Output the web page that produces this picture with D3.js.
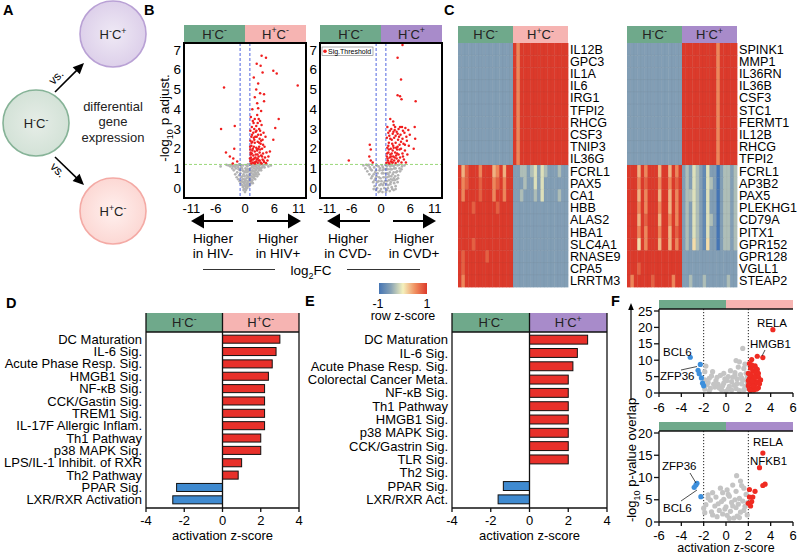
<!DOCTYPE html>
<html><head><meta charset="utf-8">
<script src="https://cdn.jsdelivr.net/npm/d3@7"></script>
<style>body{margin:0;background:#fff}text{font-family:'Liberation Sans',Arial,Helvetica,sans-serif}</style>
</head><body><svg id="c" width="800" height="555" font-family="Liberation Sans, Arial, sans-serif"></svg>
<script>
// ---------------- DATA ----------------
const GREEN = '#6fa98b', PINK = '#f6b4b2', PURPLE = '#a88bca';

// Panel B volcano plots: [log2FC, -log10 p adjust]
const volcanoTicksX = [-11, -6, 0, 6, 11];
const volcanoTicksY = [0, 1, 2, 3, 4, 5, 6, 7];
const sigThreshold = 1.2;
const hivRed = [[-4.3,5.1],[-4.9,3.0],[-2.1,3.15],[-3.9,1.8],[-3.1,1.6],[-2.2,2.0],[-2.4,1.5],[-2.5,1.25],[-1.6,1.35],
[10.8,5.2],[6.9,3.5],[6.2,3.05],[5.8,2.45],[5.1,1.85],[3.4,6.7],[4.3,6.6],[2.4,6.3],[3.2,6.2],[5.8,5.95],[6.5,5.8],[3.6,5.85],[2.7,5.3],[3.1,4.8],[3.9,4.75],[2.5,4.3],[3.9,4.4],[2.7,4.05],[3.3,3.9],
[1.2,3.6],[1.6,3.4],[2.0,3.5],[2.6,3.3],[1.4,3.1],[1.9,3.0],[2.3,3.15],[2.9,3.0],[3.4,3.2],[1.1,2.9],[1.7,2.8],[2.2,2.85],[2.7,2.7],[3.1,2.9],[3.8,2.8],[1.3,2.6],[1.8,2.55],[2.4,2.6],[3.0,2.5],[3.6,2.45],[4.2,2.6],[1.1,2.4],[1.5,2.35],[2.0,2.3],[2.6,2.35],[3.2,2.25],[1.3,2.15],[1.8,2.1],[2.3,2.05],[2.9,2.1],[3.5,2.0],[4.0,2.1],[1.1,1.95],[1.5,1.9],[2.0,1.85],[2.5,1.9],[3.0,1.8],[3.7,1.75],[4.4,1.8],[1.2,1.7],[1.7,1.65],[2.2,1.7],[2.8,1.6],[3.3,1.65],[4.1,1.55],[1.0,1.5],[1.4,1.45],[1.9,1.5],[2.4,1.45],[3.0,1.4],[3.6,1.45],[4.6,1.4],[1.1,1.35],[1.6,1.3],[2.1,1.32],[2.6,1.28],[3.2,1.3],[3.9,1.32],[1.3,1.25],[1.8,1.27],[2.3,1.35],[2.8,1.4],[4.3,1.27],[3.5,1.6],[2.1,2.6],[1.6,2.0],[2.7,2.0],[1.2,1.55],[3.3,2.4],[2.5,3.7],[1.5,4.0],[2.0,4.6],[1.8,5.6],[2.3,5.0],
[1.25,1.4],[1.7,1.45],[2.15,1.55],[2.55,1.7],[3.1,1.95],[3.4,1.25],[2.05,1.25],[2.45,1.95],[1.4,1.75],[1.05,2.1],[1.9,2.45],[2.9,2.3],[3.7,2.2],[1.45,2.7],[2.35,2.9],[3.25,2.7],[1.75,3.3],[2.8,3.5],[3.1,3.4],[1.35,2.3],[2.6,1.5],[3.8,1.4],[4.8,1.6],[1.15,1.8]];
const hivGray = [[0,-0.2],[0.2,-0.1],[-0.2,-0.05],[0.4,0.0],[-0.4,0.05],[0.1,0.1],[0.6,0.1],[-0.6,0.15],[0.3,0.2],[0.9,0.2],[-0.9,0.25],[-0.2,0.25],[0.5,0.3],[1.2,0.3],[-1.1,0.35],[0.0,0.35],[0.8,0.4],[1.5,0.4],[-1.4,0.45],[-0.5,0.45],[0.3,0.5],[1.1,0.5],[1.8,0.5],[-1.7,0.55],[-0.8,0.55],[0.6,0.6],[1.4,0.6],[2.0,0.6],[-1.2,0.65],[-2.0,0.7],[0.9,0.7],[1.7,0.7],[2.3,0.7],[-0.3,0.7],[-1.6,0.8],[1.2,0.8],[2.0,0.8],[2.6,0.8],[0.4,0.8],[-2.3,0.9],[-1.0,0.9],[1.5,0.9],[2.3,0.9],[2.9,0.9],[0.8,0.95],[-1.9,1.0],[-2.6,1.0],[1.1,1.0],[1.8,1.0],[2.6,1.0],[3.2,1.0],[-0.6,1.0],[-1.4,1.05],[1.4,1.05],[2.1,1.1],[2.9,1.1],[3.5,1.05],[-2.2,1.1],[-3.0,1.1],[0.5,1.1],[1.7,1.15],[2.4,1.15],[3.1,1.18],[3.8,1.12],[-1.8,1.15],[-2.7,1.18],[1.0,1.18],[1.3,1.2],[2.0,1.2],[2.7,1.22],[3.4,1.22],[4.2,1.2],[-3.4,1.15],[-1.2,1.2],[-0.8,1.15],[4.8,1.1],[-5.0,1.1],[5.3,1.15],[0.7,0.35],[-0.7,0.35],[1.0,0.15],[-0.1,0.6],[0.2,0.9],[1.9,0.85],[2.2,0.95],[1.6,0.55],[0.4,0.15],[-0.3,-0.1],[1.3,0.25],
[-0.1,0.15],[0.15,0.4],[-0.35,0.3],[0.55,0.2],[0.75,0.55],[-0.55,0.6],[0.35,0.65],[1.05,0.65],[-0.95,0.75],[1.3,0.75],[0.1,1.0],[-0.3,0.85],[0.65,0.85],[1.6,0.85],[-1.3,0.95],[2.4,1.05],[1.9,0.65],[-2.0,1.1],[0.3,1.15],[-0.4,1.15],[2.9,1.2],[3.6,1.18],[-1.5,1.15],[1.5,1.12],[1.0,0.9],[0.0,0.8],[-0.8,1.05],[2.5,0.6],[0.9,0.5],[1.2,0.4],[-0.2,0.45],[0.5,0.95],[-1.1,1.18],[2.2,0.75],[1.8,1.12],[3.0,1.0],[0.2,0.0],[-0.1,0.3],[0.8,0.1],[1.6,0.25],[2.1,0.45],[2.8,0.7],[3.3,0.9],[4.0,1.05],[-2.5,1.12],[-3.8,1.18],[4.5,1.2],[0.6,1.2],[-0.5,0.9],[1.4,0.3]];
const cvdRed = [[-6.6,1.4],[-2.3,2.2],[-2.1,1.95],[-2.4,1.6],[-2.1,1.4],[-1.7,1.3],[4.4,7.25],[3.4,6.6],[4.1,5.5],[3.4,4.7],[3.9,4.65],[4.2,4.5],[7.1,4.4],[6.9,3.1],[7.0,2.5],[6.7,2.0],[1.9,3.5],[2.5,3.37],
[1.3,3.1],[2.1,3.0],[2.9,3.1],[3.6,3.0],[4.3,3.1],[5.0,3.05],[5.6,2.95],[1.5,2.8],[2.4,2.75],[3.2,2.85],[4.0,2.7],[4.8,2.8],[5.9,2.7],[1.2,2.55],[1.9,2.5],[2.7,2.55],[3.5,2.45],[4.4,2.5],[5.3,2.4],[1.6,2.3],[2.3,2.25],[3.0,2.3],[3.8,2.2],[4.6,2.25],[5.7,2.15],[1.3,2.05],[2.0,2.0],[2.6,2.05],[3.3,1.95],[4.1,2.0],[4.9,1.9],[1.5,1.8],[2.2,1.75],[2.9,1.8],[3.6,1.7],[4.4,1.75],[5.4,1.7],[1.2,1.6],[1.8,1.55],[2.5,1.6],[3.2,1.5],[3.9,1.55],[4.7,1.45],[1.4,1.4],[2.0,1.35],[2.7,1.4],[3.5,1.35],[1.1,1.28],[1.7,1.25],[2.3,1.3],[3.0,1.27],[4.2,1.3],[5.1,1.3],[2.8,2.95],[3.7,2.6],[1.8,2.9],[2.5,2.15],[3.4,2.1],[1.6,1.95],[4.5,1.6],[2.2,1.45],[3.1,1.65],
[1.35,1.5],[1.9,1.7],[2.4,1.9],[2.8,1.55],[3.3,1.75],[3.8,1.95],[1.5,2.15],[2.2,2.45],[3.0,2.65],[1.7,2.65],[2.55,2.85],[3.4,2.75],[4.1,2.35],[1.25,1.75],[2.05,1.6],[3.6,1.4],[4.9,2.2],[5.2,2.6],[2.4,1.3],[1.5,1.3],[3.1,2.05],[4.5,2.9],[3.9,3.1],[2.6,3.2]];
const cvdGray = [[-0.5,-0.2],[0.3,-0.2],[1.0,-0.2],[1.8,-0.15],[2.6,-0.1],[-1.0,-0.1],[0.0,-0.05],[0.7,0.0],[1.4,0.0],[2.2,0.05],[3.0,0.1],[-1.3,0.1],[-0.3,0.15],[0.4,0.15],[1.1,0.2],[1.9,0.2],[2.7,0.25],[-1.6,0.3],[-0.8,0.3],[0.1,0.35],[0.8,0.35],[1.6,0.4],[2.4,0.4],[3.2,0.45],[-2.0,0.5],[-1.1,0.5],[-0.4,0.55],[0.5,0.55],[1.3,0.55],[2.1,0.6],[2.9,0.6],[3.5,0.65],[-2.4,0.7],[-1.5,0.7],[-0.7,0.75],[0.2,0.75],[1.0,0.75],[1.8,0.8],[2.6,0.8],[3.3,0.85],[-2.8,0.85],[-1.9,0.9],[-1.0,0.9],[0.6,0.95],[1.4,0.95],[2.2,0.95],[3.0,1.0],[3.8,1.0],[-3.2,1.0],[-2.3,1.05],[-1.4,1.05],[-0.5,1.1],[1.2,1.1],[1.9,1.1],[2.6,1.12],[3.4,1.15],[4.3,1.1],[-3.6,1.15],[-2.7,1.15],[-1.8,1.18],[0.9,1.18],[1.6,1.18],[2.3,1.15],[4.8,1.15],[-0.1,0.5],[0.3,0.9],[2.0,0.3],[1.5,0.7],[2.8,0.4],[-0.9,0.6],
[-1.5,-0.05],[-0.8,0.0],[0.0,0.2],[0.6,0.25],[1.2,0.35],[2.0,0.45],[2.6,0.5],[3.4,0.3],[-1.8,0.6],[-1.2,0.8],[-0.3,0.9],[0.4,1.05],[1.1,0.95],[1.7,0.6],[2.4,0.7],[3.1,0.8],[3.9,0.85],[-2.1,0.95],[-0.9,1.15],[0.2,1.15],[2.0,1.18],[2.9,1.18],[3.7,1.18],[4.2,0.95],[-0.5,0.35],[1.5,0.15],[2.3,-0.05],[-2.5,1.18],[-3.0,1.18],[0.9,0.55],[1.9,0.95],[2.7,1.0],[3.5,0.5],[-0.2,1.0],[0.5,0.75],[1.3,0.75],[-1.3,0.4],[3.0,-0.05],[1.2,-0.1],[-0.2,-0.15]];

// Panel C heatmaps: one string per gene, one digit per sample (digit -> z-score level)
const zLevels = [-1, -0.78, -0.56, -0.33, -0.11, 0.11, 0.33, 0.56, 0.78, 1];
const hm1Genes = ['IL12B','GPC3','IL1A','IL6','IRG1','TFPI2','RHCG','CSF3','TNIP3','IL36G','FCRL1','PAX5','CA1','HBB','ALAS2','HBA1','SLC4A1','RNASE9','CPA5','LRRTM3'];
const hm1Rows = [
'22222222222222229799999999999999','22222222222222229799999999999999','22222222222222229799999999999999','22222222222222229799999999999999',
'22222222222222229799999999999999','22222222222222229799999999999999','22222222222222229799999999999999','22222222222222229799999999999999',
'22222222222222229799999999999999','22222222222222229799999999999999',
'96899979996796992233234243222322','97899989997897992223224242222222','97999989997997992232223242222322',
'99998999999899992222222222222222','99999999999999992222222222222222','99999999999999992222222222222222','99998999999999992222222222222222',
'98999999899999992222222222222222','98999999999999992222222222222222','97999999999999992222222222222222'];
const hm2Genes = ['SPINK1','MMP1','IL36RN','IL36B','CSF3','STC1','FERMT1','IL12B','RHCG','TFPI2','FCRL1','AP3B2','PAX5','PLEKHG1','CD79A','PITX1','GPR152','GPR128','VGLL1','STEAP2'];
const hm2Rows = [
'22222222222222229999999999799999','22222222222222229999999999799999','22222222222222229999999999799999','22222222222222229999999999799999',
'22222222222222229999999999799999','22222222222222229999999999799999','22222222222222229999999999799999','22222222222222229999999999799999',
'22222222222222229999999999799999','22222222222222229999999999799999',
'99969799969969792324321422023323','99979899979979892324321432023323','99969799969969792334321422023323','99979799979969792324321422023323',
'99969899969979792324321432023323','99979799979969892324321422023323','99959799969969792325321522023323',
'99999999999999992222222222222222','99989999999999992222222222222222','97999998999997992232223222222322'];

// Panel D / E pathways
const axisTicksZ = [-4, -2, 0, 2, 4];
const dPathways = ['DC Maturation','IL-6 Sig.','Acute Phase Resp. Sig.','HMGB1 Sig.','NF-\u03BAB Sig.','CCK/Gastin Sig.','TREM1 Sig.','IL-17F Allergic Inflam.','Th1 Pathway','p38 MAPK Sig.','LPS/IL-1 Inhibit. of RXR','Th2 Pathway','PPAR Sig.','LXR/RXR Activation'];
const dZ = [3.0, 2.8, 2.6, 2.4, 2.2, 2.2, 2.2, 2.2, 2.0, 2.0, 1.0, 0.82, -2.4, -2.6];
const ePathways = ['DC Maturation','IL-6 Sig.','Acute Phase Resp. Sig.','Colorectal Cancer Meta.','NF-\u03BAB Sig.','Th1 Pathway','HMGB1 Sig.','p38 MAPK Sig.','CCK/Gastrin Sig.','TLR Sig.','Th2 Sig.','PPAR Sig.','LXR/RXR Act.'];
const eZ = [3.0, 2.47, 2.24, 2.0, 2.0, 2.0, 2.0, 2.0, 2.0, 2.0, 0, -1.35, -1.62];

// Panel F upstream regulators: [activation z-score, -log10 p-value overlap]
const fTicksX = [-6, -4, -2, 0, 2, 4, 6];
const fTopTicksY = [0, 5, 10, 15, 20, 25];
const fBotTicksY = [0, 5, 10, 15, 20];
const fTopRed = [[4.2,19.3],[3.3,10.8],[2.8,11.2],[2.3,10.2],[2.1,9.0],[2.6,8.3],[2.2,7.6],[2.8,7.2],[2.4,6.6],[2.0,6.0],[2.7,5.8],[2.3,5.2],[2.9,4.9],[2.1,4.4],[2.5,4.0],[2.8,3.4],[2.2,3.0],[2.6,2.6],[2.0,2.2],[2.4,1.8],[2.9,1.6],[2.1,1.2],[2.5,0.9],[3.0,2.8],[2.3,8.6],[2.7,6.4],[2.0,3.8],[3.1,4.0],
[2.15,5.6],[2.55,4.6],[2.05,2.8],[2.45,2.1],[2.75,1.2],[2.35,3.6],[2.65,7.6],[2.9,6.0],[2.2,0.8]];
const fTopBlue = [[-3.2,10.9],[-2.3,8.7],[-2.5,6.9],[-2.4,5.9],[-2.2,4.6],[-2.1,3.0],[-2.0,2.2]];
const fTopGray = [[1.5,13.6],[1.2,9.5],[0.9,9.9],[-1.8,8.2],[-1.2,6.5],[-0.5,5.4],[0.2,5.0],[0.8,6.2],[1.6,7.5],[1.8,6.0],[-1.5,4.5],[-0.9,3.8],[-0.2,3.0],[0.5,3.5],[1.0,4.2],[1.4,2.8],[1.9,3.5],[-1.7,2.5],[-1.0,1.8],[-0.4,1.0],[0.3,2.0],[0.9,1.4],[1.6,1.0],[-1.9,1.2],[0.0,0.5],[1.2,0.7],[-0.7,2.6],[0.6,4.8],[-1.3,5.2],[1.9,4.7],[-1.9,6.5],[1.3,5.6],[0.1,3.8],[-0.3,2.2],[1.7,2.0],[-1.5,0.6],
[-1.6,3.2],[-0.8,4.8],[0.4,6.8],[1.1,7.9],[1.7,8.8],[-0.2,6.0],[0.7,2.4],[1.5,3.9],[-1.1,2.7],[-0.6,1.5],[0.2,1.2],[1.0,2.9],[1.8,1.5],[-1.4,1.4],[0.5,0.9],[1.4,4.6],[-0.1,4.3],[-1.9,4.0],[0.8,5.4],[1.95,2.6]];
const fBotRed = [[3.3,15.5],[3.0,12.2],[3.5,8.5],[3.3,8.2],[2.6,6.9],[2.1,7.3],[2.4,5.6],[2.1,5.6],[2.3,4.6],[2.0,4.2],[2.2,3.6]];
const fBotBlue = [[-2.6,8.7],[-2.7,8.3],[-2.85,7.8],[-2.25,5.7]];
const fBotGray = [[0.95,10.4],[1.3,9.2],[0.6,8.3],[1.6,7.6],[-0.3,6.6],[0.9,6.9],[1.8,6.2],[-1.6,6.1],[-0.9,5.6],[0.3,5.8],[1.2,5.3],[-1.4,4.9],[-0.4,4.6],[0.5,4.4],[1.5,4.7],[-1.8,3.9],[-1.0,3.6],[0.0,3.4],[0.9,3.2],[1.7,3.5],[-0.6,2.6],[0.4,2.4],[1.3,2.2],[-1.3,2.3],[-2.0,3.1],[0.1,1.5],[1.0,1.3],[1.9,1.6],[-0.8,1.2],[0.7,0.9],[-1.6,5.4],[0.2,6.2],[1.1,4.0],
[-0.5,7.6],[1.4,8.2],[0.1,7.2],[-1.2,6.6],[1.9,4.3],[-0.2,5.1],[0.8,5.0],[-1.9,2.1],[-0.3,1.8],[1.6,2.6],[0.6,3.6],[-0.7,4.1],[1.2,1.0],[-1.2,1.6],[0.3,0.8],[-0.1,2.9]];

// ---------------- DRAWING ----------------
const svg = d3.select('#c');

function hcLabel(sel, x, y, h, c, size) {
  const t = sel.append('text').attr('x', x).attr('y', y).attr('text-anchor', 'middle').attr('font-size', size).attr('fill', '#222');
  const up = size * 0.4, small = size * 0.68;
  t.append('tspan').text('H');
  t.append('tspan').attr('dy', -up).attr('font-size', small).text(h);
  t.append('tspan').attr('dy', up).text('C');
  t.append('tspan').attr('dy', -up).attr('font-size', small).text(c);
  return t;
}
function panelLetter(x, y, s) {
  svg.append('text').attr('x', x).attr('y', y).attr('font-size', 14.5).attr('font-weight', 'bold').text(s);
}
function header(x0, xm, x1, y0, y1, rightColor, rh, rc, withText) {
  svg.append('rect').attr('x', x0).attr('y', y0).attr('width', xm - x0).attr('height', y1 - y0).attr('fill', GREEN);
  svg.append('rect').attr('x', xm).attr('y', y0).attr('width', x1 - xm).attr('height', y1 - y0).attr('fill', rightColor);
  if (withText) {
    const yc = (y0 + y1) / 2 + 4.6;
    hcLabel(svg, (x0 + xm) / 2, yc, '-', '-', 13);
    hcLabel(svg, (xm + x1) / 2, yc, rh, rc, 13);
  }
}

// ---- Panel A ----
panelLetter(3, 15, 'A');
const defs = svg.append('defs');
function radial(id, inner, outer) {
  const g = defs.append('radialGradient').attr('id', id);
  g.append('stop').attr('offset', '0%').attr('stop-color', inner);
  g.append('stop').attr('offset', '100%').attr('stop-color', outer);
}
radial('gP', '#efe9f5', '#ddd0ea');
radial('gG', '#e6ede7', '#d3e2d7');
radial('gR', '#fff0ee', '#fcd8d4');
const circles = [
  {cx: 113, cy: 34, fill: 'url(#gP)', stroke: '#b9a1d5', h: '-', c: '+'},
  {cx: 36, cy: 123, fill: 'url(#gG)', stroke: '#86b397', h: '-', c: '-'},
  {cx: 113, cy: 211, fill: 'url(#gR)', stroke: '#f4aaa5', h: '+', c: '-'}
];
circles.forEach(d => {
  svg.append('circle').attr('cx', d.cx).attr('cy', d.cy).attr('r', 33).attr('fill', d.fill).attr('stroke', d.stroke).attr('stroke-width', 1.6);
  hcLabel(svg, d.cx, d.cy + 5, d.h, d.c, 13);
});
['differential', 'gene', 'expression'].forEach((s, i) => {
  svg.append('text').attr('x', 113).attr('y', 110.5 + i * 15.5).attr('text-anchor', 'middle').attr('font-size', 13).attr('fill', '#222').text(s);
});
function arrowLine(x1, y1, x2, y2, headLen, headW, sw) {
  const dx = x2 - x1, dy = y2 - y1, L = Math.hypot(dx, dy), ux = dx / L, uy = dy / L;
  const bx = x2 - ux * headLen, by = y2 - uy * headLen;
  svg.append('line').attr('x1', x1).attr('y1', y1).attr('x2', bx + ux).attr('y2', by + uy).attr('stroke', '#000').attr('stroke-width', sw);
  svg.append('polygon').attr('points', [[x2, y2], [bx - uy * headW, by + ux * headW], [bx + uy * headW, by - ux * headW]].map(p => p.join(',')).join(' ')).attr('fill', '#000');
}
arrowLine(55, 92, 84, 63, 11, 5, 1.6);
arrowLine(55, 157, 84, 185, 11, 5, 1.6);
svg.append('text').attr('transform', 'translate(59,80) rotate(-45)').attr('text-anchor', 'middle').attr('font-size', 12).text('vs.');
svg.append('text').attr('transform', 'translate(55,173) rotate(45)').attr('text-anchor', 'middle').attr('font-size', 12).text('vs.');

// ---- Panel B ----
panelLetter(144, 15, 'B');
function volcano(x0, x1, red, gray, rightColor, rh, rc, legend) {
  const yTop = 43, yBot = 198;
  const x = d3.scaleLinear().domain([-12.5, 12.5]).range([x0, x1]);
  const y = d3.scaleLinear().domain([-0.5, 7.35]).range([yBot, yTop]);
  header(x0, x(0), x1, 25, yTop, rightColor, rh, rc, true);
  const g = svg.append('g');
  g.selectAll('.g').data(gray).join('circle').attr('cx', d => x(d[0])).attr('cy', d => y(d[1])).attr('r', 1.35).attr('fill', '#b3b3b3');
  [-1, 1].forEach(v => g.append('line').attr('x1', x(v)).attr('x2', x(v)).attr('y1', yTop).attr('y2', yBot).attr('stroke', '#3d55dd').attr('stroke-width', 0.9).attr('stroke-dasharray', '3,2'));
  g.append('line').attr('x1', x0).attr('x2', x1).attr('y1', y(sigThreshold)).attr('y2', y(sigThreshold)).attr('stroke', '#8ed46b').attr('stroke-width', 0.9).attr('stroke-dasharray', '3,2');
  g.selectAll('.r').data(red).join('circle').attr('cx', d => x(d[0])).attr('cy', d => y(d[1])).attr('r', 1.25).attr('fill', '#f01e1e');
  svg.append('rect').attr('x', x0).attr('y', yTop).attr('width', x1 - x0).attr('height', yBot - yTop).attr('fill', 'none').attr('stroke', '#000').attr('stroke-width', 2);
  volcanoTicksY.forEach(v => svg.append('text').attr('x', x0 - 3).attr('y', y(v) + 4.7).attr('text-anchor', 'end').attr('font-size', 13.5).text(v));
  volcanoTicksX.forEach(v => svg.append('text').attr('x', x(v)).attr('y', 212.5).attr('text-anchor', 'middle').attr('font-size', 13).text(v));
  if (legend) {
    svg.append('rect').attr('x', x0 + 2).attr('y', 47).attr('width', 51).attr('height', 8.5).attr('fill', '#fff').attr('stroke', '#777').attr('stroke-width', 0.6);
    svg.append('circle').attr('cx', x0 + 5).attr('cy', 51.2).attr('r', 1.8).attr('fill', '#f01e1e');
    svg.append('text').attr('x', x0 + 8).attr('y', 53.7).attr('font-size', 7).text('Sig.Threshold');
  }
  return x;
}
volcano(184, 306, hivRed, hivGray, PINK, '+', '-', false);
volcano(320, 442, cvdRed, cvdGray, PURPLE, '-', '+', true);
const yl = svg.append('text').attr('transform', 'translate(169,118) rotate(-90)').attr('text-anchor', 'middle').attr('font-size', 13.5);
yl.append('tspan').text('-log');
yl.append('tspan').attr('dy', 3.5).attr('font-size', 9).text('10');
yl.append('tspan').attr('dy', -3.5).text(' p adjust.');
function bigArrow(xFrom, xTo, y) { arrowLine(xFrom, y, xTo, y, 13, 7.5, 2); }
bigArrow(233, 191, 221); bigArrow(257, 301, 221);
bigArrow(370, 327, 221); bigArrow(393, 436, 221);
[[213, 'in HIV-'], [278, 'in HIV+'], [348, 'in CVD-'], [414, 'in CVD+']].forEach(d => {
  svg.append('text').attr('x', d[0]).attr('y', 242.5).attr('text-anchor', 'middle').attr('font-size', 13.5).text('Higher');
  svg.append('text').attr('x', d[0]).attr('y', 257.5).attr('text-anchor', 'middle').attr('font-size', 13.5).text(d[1]);
});
const lf = svg.append('text').attr('x', 311).attr('y', 275).attr('text-anchor', 'middle').attr('font-size', 13.5);
lf.append('tspan').text('log');
lf.append('tspan').attr('dy', 3.5).attr('font-size', 9).text('2');
lf.append('tspan').attr('dy', -3.5).text('FC');
svg.append('line').attr('x1', 203).attr('x2', 275).attr('y1', 269.5).attr('y2', 269.5).attr('stroke', '#000').attr('stroke-width', 0.8);
svg.append('line').attr('x1', 347).attr('x2', 420).attr('y1', 269.5).attr('y2', 269.5).attr('stroke', '#000').attr('stroke-width', 0.8);

// ---- Panel C ----
panelLetter(444, 15, 'C');
const zColor = d3.scaleLinear().domain([-1, -0.5, 0, 0.5, 1]).range(['#4575b4', '#8aa4b5', '#f4f1bd', '#f09060', '#dc3a2b']);
function heatmap(genes, rows, x0, x1, rightColor, rh, rc) {
  const y0 = 43, y1 = 287;
  const nCols = rows[0].length;
  const x = d3.scaleBand().domain(d3.range(nCols)).range([x0, x1]);
  const y = d3.scaleBand().domain(genes).range([y0, y1]);
  header(x0, x(nCols / 2), x1, 26, y0, rightColor, rh, rc, true);
  const g = svg.append('g');
  rows.forEach((r, i) => r.split('').forEach((ch, j) => {
    g.append('rect').attr('x', x(j)).attr('y', y(genes[i])).attr('width', x.bandwidth() + 0.4).attr('height', y.bandwidth() + 0.4)
      .attr('fill', zColor(zLevels[+ch]));
  }));
  d3.range(1, nCols).forEach(j => g.append('line').attr('x1', x(j)).attr('x2', x(j)).attr('y1', y0).attr('y2', y1).attr('stroke', 'rgba(80,80,80,0.10)').attr('stroke-width', 0.5));
  genes.forEach((gn, i) => { if (i) g.append('line').attr('x1', x0).attr('x2', x1).attr('y1', y(gn)).attr('y2', y(gn)).attr('stroke', 'rgba(80,80,80,0.12)').attr('stroke-width', 0.5); });
  genes.forEach(gn => svg.append('text').attr('x', x1 + 2).attr('y', y(gn) + y.bandwidth() / 2 + 4.5).attr('font-size', 12.6).text(gn));
}
heatmap(hm1Genes, hm1Rows, 458, 568, PINK, '+', '-');
heatmap(hm2Genes, hm2Rows, 627, 737, PURPLE, '-', '+');
const cb = defs.append('linearGradient').attr('id', 'cbar');
zColor.domain().forEach((v, i) => cb.append('stop').attr('offset', (v + 1) / 2).attr('stop-color', zColor.range()[i]));
svg.append('rect').attr('x', 379).attr('y', 283).attr('width', 48).attr('height', 11).attr('fill', 'url(#cbar)');
svg.append('text').attr('x', 378).attr('y', 308).attr('text-anchor', 'middle').attr('font-size', 12.5).text('-1');
svg.append('text').attr('x', 427).attr('y', 308).attr('text-anchor', 'middle').attr('font-size', 12.5).text('1');
svg.append('text').attr('x', 403).attr('y', 319.5).attr('text-anchor', 'middle').attr('font-size', 12.5).text('row z-score');

// ---- Panels D & E ----
function barPanel(labels, vals, x0, x1, rightColor, rh, rc, pad) {
  const hTop = 313, hBot = 332, yBot = 508;
  const x = d3.scaleLinear().domain([-4, 4]).range([x0, x1]);
  const y = d3.scaleBand().domain(labels).range([hBot + 1, yBot - 2]).paddingInner(pad).paddingOuter(pad / 2);
  header(x0, x(0), x1, hTop, hBot, rightColor, rh, rc, true);
  const g = svg.append('g');
  labels.forEach((l, i) => {
    const v = vals[i];
    if (v !== 0) g.append('rect').attr('x', Math.min(x(0), x(v))).attr('y', y(l)).attr('width', Math.abs(x(v) - x(0))).attr('height', y.bandwidth())
      .attr('fill', v > 0 ? '#e8302a' : '#3f8ad0').attr('stroke', '#111').attr('stroke-width', 1);
    g.append('text').attr('x', x0 - 4).attr('y', y(l) + y.bandwidth() / 2 + 4.6).attr('text-anchor', 'end').attr('font-size', 13).text(l);
  });
  [[x0, hTop, x0, yBot], [x1, hTop, x1, yBot], [x(0), hTop, x(0), yBot], [x0, yBot, x1, yBot], [x0, hBot, x1, hBot]].forEach(p =>
    g.append('line').attr('x1', p[0]).attr('y1', p[1]).attr('x2', p[2]).attr('y2', p[3]).attr('stroke', '#111').attr('stroke-width', 1.3));
  axisTicksZ.forEach(v => {
    g.append('line').attr('x1', x(v)).attr('x2', x(v)).attr('y1', yBot).attr('y2', yBot + 4).attr('stroke', '#111').attr('stroke-width', 1.3);
    g.append('text').attr('x', x(v)).attr('y', 524.5).attr('text-anchor', 'middle').attr('font-size', 13).text(v);
  });
  g.append('text').attr('x', x(0)).attr('y', 539.5).attr('text-anchor', 'middle').attr('font-size', 13).text('activation z-score');
}
panelLetter(6, 308, 'D');
barPanel(dPathways, dZ, 146, 299, PINK, '+', '-', 0.35);
panelLetter(305, 306, 'E');
barPanel(ePathways, eZ, 452, 607, PURPLE, '-', '+', 0.33);

// ---- Panel F ----
panelLetter(611, 306, 'F');
function fPlot(hTop, hBot, yAxis, yMaxPx, yMax, ticksY, red, blue, gray, rightColor, tickLabelY) {
  const x = d3.scaleLinear().domain([-6, 6]).range([659, 793]);
  const y = d3.scaleLinear().domain([0, yMax]).range([yAxis, yMaxPx]);
  header(659, x(0), 793, hTop, hBot, rightColor, '', '', false);
  const g = svg.append('g');
  [-2, 2].forEach(v => g.append('line').attr('x1', x(v)).attr('x2', x(v)).attr('y1', hBot).attr('y2', yAxis).attr('stroke', '#222').attr('stroke-width', 1).attr('stroke-dasharray', '1.2,1.8'));
  const pt = (data, col) => g.selectAll(null).data(data).join('circle').attr('cx', d => x(d[0])).attr('cy', d => y(d[1])).attr('r', 2.6).attr('fill', col);
  pt(gray, '#c4c4c4'); pt(red, '#ef2b22'); pt(blue, '#3d8fdc');
  g.append('line').attr('x1', 659).attr('x2', 659).attr('y1', hBot).attr('y2', yAxis).attr('stroke', '#111').attr('stroke-width', 1.3);
  g.append('line').attr('x1', 659).attr('x2', 793).attr('y1', yAxis).attr('y2', yAxis).attr('stroke', '#111').attr('stroke-width', 1.3);
  g.append('line').attr('x1', 659).attr('x2', 793).attr('y1', hBot).attr('y2', hBot).attr('stroke', '#111').attr('stroke-width', 1.3);
  ticksY.forEach(v => {
    g.append('line').attr('x1', 654).attr('x2', 659).attr('y1', y(v)).attr('y2', y(v)).attr('stroke', '#111').attr('stroke-width', 1.3);
    g.append('text').attr('x', 652.5).attr('y', y(v) + 4.6).attr('text-anchor', 'end').attr('font-size', 13).text(v);
  });
  fTicksX.forEach(v => {
    g.append('line').attr('x1', x(v)).attr('x2', x(v)).attr('y1', yAxis).attr('y2', yAxis + 4).attr('stroke', '#111').attr('stroke-width', 1.3);
    g.append('text').attr('x', x(v)).attr('y', tickLabelY).attr('text-anchor', 'middle').attr('font-size', 13).text(v);
  });
}
fPlot(300, 309, 393, 311, 25, fTopTicksY, fTopRed, fTopBlue, fTopGray, PINK, 411.5);
fPlot(422, 431, 522, 433, 20, fBotTicksY, fBotRed, fBotBlue, fBotGray, PURPLE, 539.5);
svg.append('text').attr('x', 726).attr('y', 551.5).attr('text-anchor', 'middle').attr('font-size', 12.5).text('activation z-score');
function lab(s, x, y) { svg.append('text').attr('x', x).attr('y', y).attr('font-size', 11.5).text(s); }
function leader(x1, y1, x2, y2) { svg.append('line').attr('x1', x1).attr('y1', y1).attr('x2', x2).attr('y2', y2).attr('stroke', '#222').attr('stroke-width', 0.8); }
lab('RELA', 757, 326.5); lab('HMGB1', 750, 347.5); lab('BCL6', 663, 356); lab('ZFP36', 660, 379.5);
leader(765, 350, 762, 356); leader(681, 370, 697, 366.5);
lab('RELA', 753, 446); lab('NFKB1', 750, 465); lab('ZFP36', 662, 470); lab('BCL6', 663, 511.5);
leader(690, 473, 696, 483); leader(681, 501, 697, 490);
const ft = svg.append('text').attr('transform', 'translate(636,460) rotate(-90)').attr('text-anchor', 'middle').attr('font-size', 13);
ft.append('tspan').text('-log');
ft.append('tspan').attr('dy', 3.5).attr('font-size', 9).text('10');
ft.append('tspan').attr('dy', -3.5).text(' p-value overlap');
arrowLine(631, 400, 631, 303, 7, 2.8, 1.2);
</script></body></html>
